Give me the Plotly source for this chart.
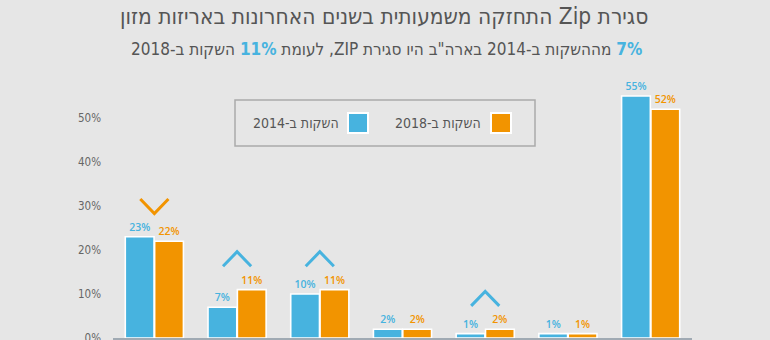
import plotly.graph_objects as go

# ---------------- data ----------------
categories = [1, 2, 3, 4, 5, 6, 7]
series_names = ["השקות ב-2014", "השקות ב-2018"]
values_2014 = [23, 7, 10, 2, 1, 1, 55]
values_2018 = [22, 11, 11, 2, 2, 1, 52]
trend = ["down", "up", "up", "", "up", "", ""]   # chevron per group
y_ticks = [0, 10, 20, 30, 40, 50]
y_tick_labels = ["0%", "10%", "20%", "30%", "40%", "50%"]
title = "סגירת Zip התחזקה משמעותית בשנים האחרונות באריזות מזון"

BLUE = "#47B3DF"
ORANGE = "#F29400"
BG = "#E6E6E6"
GRAY = "#555555"
RLE, PDF = "\u202B", "\u202C"
FONT = "DejaVu Sans Condensed"

W, H = 770, 340
L, R, T, B = 113, 78, 74, 2
YMAX = 60

x_idx = list(range(len(categories)))

fig = go.Figure()
for name, vals, col in [(series_names[0], values_2014, BLUE), (series_names[1], values_2018, ORANGE)]:
    fig.add_trace(go.Bar(
        x=x_idx, y=vals, name=name,
        marker=dict(color=col, line=dict(color="white", width=1.6)),
        text=[f"{v}%" for v in vals], textposition="outside",
        textfont=dict(family="Open Sans", size=10.5, color=col, weight=600),
        cliponaxis=False, showlegend=False,
    ))

# chevrons (trend markers) above groups
for i, t in enumerate(trend):
    if not t:
        continue
    top = max(values_2014[i], values_2018[i])
    lo, hi = top + 5.3, top + 8.6
    dx = 0.17
    if t == "up":
        xs, ys, col = [i - dx, i, i + dx], [lo, hi, lo], BLUE
    else:
        xs, ys, col = [i - dx, i, i + dx], [hi, lo, hi], ORANGE
    fig.add_trace(go.Scatter(x=xs, y=ys, mode="lines", line=dict(color=col, width=3),
                             showlegend=False, hoverinfo="skip", cliponaxis=False))

# ---------------- custom RTL legend ----------------
pw, ph = W - L - R, H - T - B
def px(x):
    return (x - L) / pw
def py(y):
    return (H - B - y) / ph

shapes = [dict(type="rect", xref="paper", yref="paper",
               x0=px(235), x1=px(535), y0=py(146), y1=py(100),
               line=dict(color="#AAAAAA", width=1.5), fillcolor="rgba(0,0,0,0)")]
annotations = []
legend_items = [(series_names[1], ORANGE, 491, 483), (series_names[0], BLUE, 348, 341)]
for name, col, sq_x, txt_right in legend_items:
    shapes.append(dict(type="rect", xref="paper", yref="paper",
                       x0=px(sq_x), x1=px(sq_x + 20), y0=py(133), y1=py(113),
                       line=dict(color="white", width=2), fillcolor=col))
    annotations.append(dict(xref="paper", yref="paper", x=px(txt_right), y=py(123),
                            xanchor="right", yanchor="middle", showarrow=False,
                            text=RLE + name + PDF,
                            font=dict(family=FONT, size=14, color=GRAY)))

# title + subtitle
annotations.append(dict(xref="paper", yref="paper", x=px(384), y=py(16), xanchor="center",
                        yanchor="middle", showarrow=False, text=RLE + title + PDF,
                        font=dict(family=FONT, size=22.5, color=GRAY)))
subtitle = (RLE + f"<span style='color:{BLUE}'><b>7%</b></span> מההשקות ב-2014 בארה\"ב היו סגירת ZIP, לעומת "
            f"<span style='color:{BLUE}'><b>11%</b></span> השקות ב-2018" + PDF)
annotations.append(dict(xref="paper", yref="paper", x=px(386), y=py(49), xanchor="center",
                        yanchor="middle", showarrow=False, text=subtitle,
                        font=dict(family=FONT, size=17, color=GRAY)))

fig.update_layout(
    width=W, height=H, margin=dict(l=L, r=R, t=T, b=B, pad=0, autoexpand=False),
    paper_bgcolor=BG, plot_bgcolor=BG,
    barmode="group", bargap=0.29, bargroupgap=0.02,
    shapes=shapes, annotations=annotations, showlegend=False,
    xaxis=dict(range=[-0.5, len(categories) - 0.5], showticklabels=False, showgrid=False,
               zeroline=False, showline=True, linecolor="#A0AAB3", linewidth=2, ticks="",
               fixedrange=True, automargin=False),
    yaxis=dict(range=[0, YMAX], tickvals=y_ticks, ticktext=y_tick_labels, showgrid=False,
               zeroline=False, showline=False, ticks="", ticklabelstandoff=11,
               ticklabeloverflow="allow", automargin=False,
               tickfont=dict(family=FONT, size=11.5, color="#666666"),
               fixedrange=True),
)
fig.write_html("out.html")
